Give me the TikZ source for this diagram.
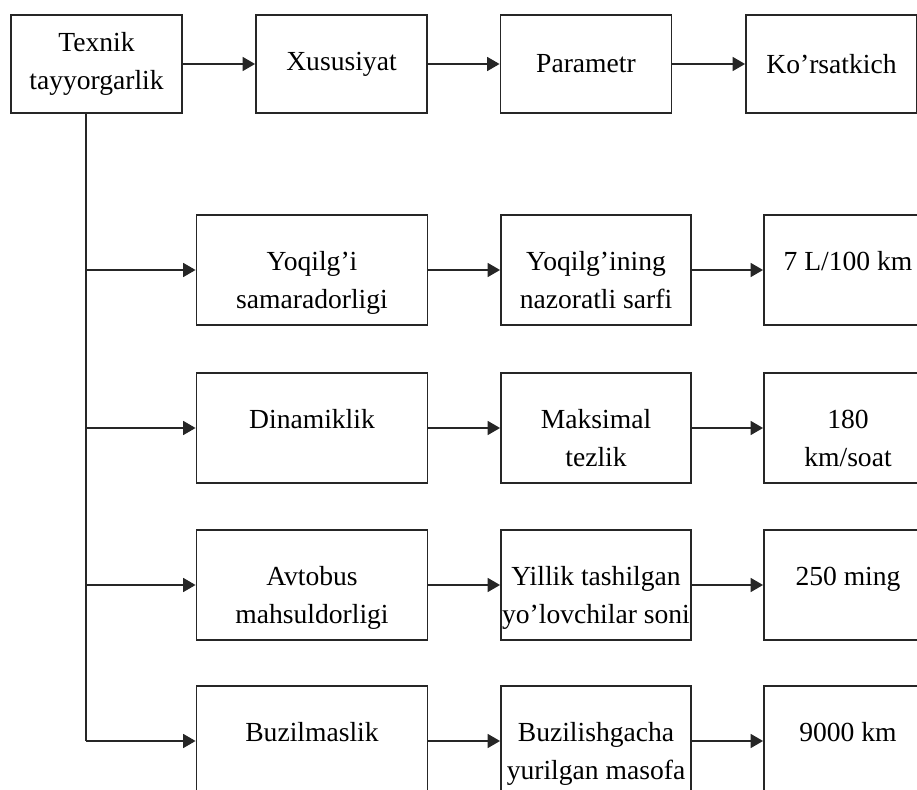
\documentclass[tikz,border=0pt]{standalone}
\usepackage{fontspec}
\setmainfont{Liberation Serif}
\usetikzlibrary{arrows.meta}
\definecolor{frame-grey}{HTML}{262626}
% text of a lower box: first line hangs from the top edge
\newcommand{\rowtext}[2]{\parbox[t][2.2cm][t]{#1}{\centering\rule{0pt}{1.12cm}#2}}

\begin{document}
\begin{tikzpicture}[x=0.02cm, y=-0.02cm,
    every node/.style={font=\fontsize{15.7}{21.3}\selectfont},
    headbox/.style={draw=frame-grey, line width=0.95pt, minimum width=3.42cm,
                    minimum height=1.96cm, inner sep=0pt, align=center},
    rowbox/.style={draw=frame-grey, line width=0.95pt, minimum height=2.2cm,
                   inner sep=0pt},
    link/.style={-{Triangle[length=0.25cm, width=0.27cm]}, line width=1.6pt,
                 color=frame-grey}]
    % Layout in pixels of the 917 x 790 frame (y grows downwards):
    %   header row centred at y=64, boxes 171 x 98
    %   rows centred at y=270, 428, 585, 741, boxes 110 high
    %   columns centred at x=312 (231 wide), 596 (190), 848 (168)
    %   trunk at x=86
    \useasboundingbox (0,0) rectangle (917,790);
    \clip (0,0) rectangle (917,790);

    % header row
    \node[headbox] (texnik) at (96.5,64) {Texnik\\tayyorgarlik};
    \node[headbox] (xusus)  at (341.5,64) {Xususiyat};
    \node[headbox] (param)  at (586,64) {Parametr};
    \node[headbox] (korsat) at (831.5,64) {Ko’rsatkich};
    \draw[link] (texnik) -- (xusus);
    \draw[link] (xusus) -- (param);
    \draw[link] (param) -- (korsat);

    % fuel
    \node[rowbox, minimum width=4.62cm] (yoq) at (312,270)
          {\rowtext{4.62cm}{Yoqilg’i\\samaradorligi}};
    \node[rowbox, minimum width=3.8cm] (sarf) at (596,270)
          {\rowtext{3.8cm}{Yoqilg’ining\\nazoratli sarfi}};
    \node[rowbox, minimum width=3.36cm] (litr) at (848,270)
          {\rowtext{3.36cm}{7 L/100 km}};

    % dynamics
    \node[rowbox, minimum width=4.62cm] (dina) at (312,428)
          {\rowtext{4.62cm}{Dinamiklik}};
    \node[rowbox, minimum width=3.8cm] (tezlik) at (596,428)
          {\rowtext{3.8cm}{Maksimal\\tezlik}};
    \node[rowbox, minimum width=3.36cm] (soat) at (848,428)
          {\rowtext{3.36cm}{180\\km/soat}};

    % productivity
    \node[rowbox, minimum width=4.62cm] (avto) at (312,585)
          {\rowtext{4.62cm}{Avtobus\\mahsuldorligi}};
    \node[rowbox, minimum width=3.8cm] (yolov) at (596,585)
          {\rowtext{3.8cm}{Yillik tashilgan\\yo’lovchilar soni}};
    \node[rowbox, minimum width=3.36cm] (ming) at (848,585)
          {\rowtext{3.36cm}{250 ming}};

    % reliability
    \node[rowbox, minimum width=4.62cm] (buzil) at (312,741)
          {\rowtext{4.62cm}{Buzilmaslik}};
    \node[rowbox, minimum width=3.8cm] (masofa) at (596,741)
          {\rowtext{3.8cm}{Buzilishgacha\\yurilgan masofa}};
    \node[rowbox, minimum width=3.36cm] (km) at (848,741)
          {\rowtext{3.36cm}{9000 km}};

    % trunk and branches
    \coordinate (trunk) at (86,0);
    \draw[line width=1.1pt, color=frame-grey] (trunk |- texnik.south) -- (trunk |- buzil.west);
    \draw[link] (trunk |- yoq.west) -- (yoq);
    \draw[link] (trunk |- dina.west) -- (dina);
    \draw[link] (trunk |- avto.west) -- (avto);
    \draw[link] (trunk |- buzil.west) -- (buzil);

    \draw[link] (yoq) -- (sarf);
    \draw[link] (sarf) -- (litr);
    \draw[link] (dina) -- (tezlik);
    \draw[link] (tezlik) -- (soat);
    \draw[link] (avto) -- (yolov);
    \draw[link] (yolov) -- (ming);
    \draw[link] (buzil) -- (masofa);
    \draw[link] (masofa) -- (km);
  \end{tikzpicture}
\end{document}
